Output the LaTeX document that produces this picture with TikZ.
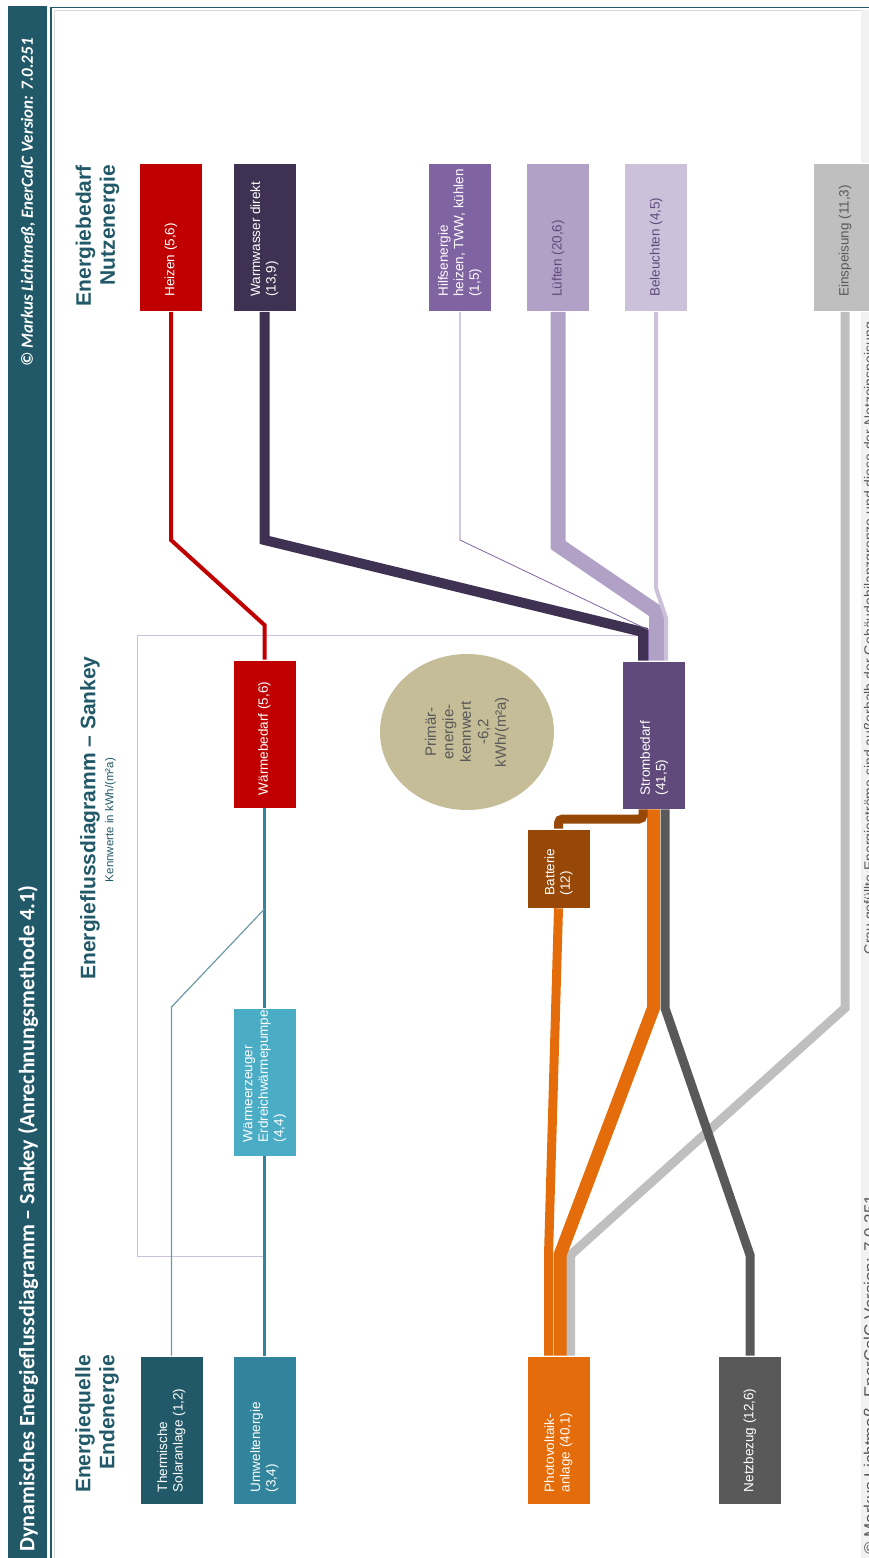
\documentclass[tikz,border=0pt]{standalone}
\usepackage{fontspec}
\setmainfont{Liberation Sans}
\newfontfamily\bandfont{Carlito}
\usetikzlibrary{shapes.geometric}
\definecolor{tealdark}{HTML}{215968}
\definecolor{umweltcol}{HTML}{31849B}
\definecolor{erzeugercol}{HTML}{4BACC6}
\definecolor{solarline}{HTML}{6E98A6}
\definecolor{heizcol}{HTML}{C00000}
\definecolor{wwcol}{HTML}{3F3151}
\definecolor{hilfscol}{HTML}{8064A2}
\definecolor{lueftcol}{HTML}{B2A1C7}
\definecolor{lichtcol}{HTML}{CCC1DA}
\definecolor{einspcol}{HTML}{BFBFBF}
\definecolor{stromcol}{HTML}{604A7B}
\definecolor{battcol}{HTML}{974806}
\definecolor{pvcol}{HTML}{E46C0A}
\definecolor{netzcol}{HTML}{595959}
\definecolor{primcol}{HTML}{C4BD97}
\definecolor{grenzcol}{HTML}{CCC0DA}
\definecolor{darktext}{HTML}{5F4B7B}
\tikzset{
  box/.style={draw=white, line width=0.6pt, minimum width=63pt, minimum height=148pt, inner sep=0pt},
  boxtext/.style={rotate=90, anchor=west, align=left, inner sep=0pt, text=white, font=\fontsize{13.5}{15.5}\selectfont},
  heading/.style={rotate=90, inner sep=0pt, text=tealdark, font=\fontsize{21}{24}\selectfont\bfseries},
  flow/.style={line cap=butt, line join=miter},
}

\begin{document}
\begin{tikzpicture}[x=1pt, y=-1pt]
  \useasboundingbox (0,0) rectangle (869,1558);
  % band and frame
  \fill[tealdark] (8,6) rectangle (47,1558);
  \fill[black!5] (861,10) rectangle (869,1558);
  \draw[tealdark, line width=1.2pt] (51,1558) -- (51,7.5) -- (869,7.5);
  \draw[black!15, line width=0.8pt] (54,1558) -- (54,10.5) -- (861,10.5);
  \node[rotate=90, anchor=west, inner sep=0pt, text=white, font=\bandfont\fontsize{22}{24}\selectfont\bfseries] (titel) at (28,1552) {Dynamisches Energieflussdiagramm – Sankey (Anrechnungsmethode 4.1)};
  \node[rotate=90, anchor=east, inner sep=0pt, text=white, font=\bandfont\fontsize{17}{20}\selectfont\bfseries\itshape] (version) at (28,38) {© Markus Lichtmeß, EnerCalC Version: 7.0.251};
  % headings
  \node[heading, anchor=east, align=right] (quelle) at (97,1355) {Energiequelle\\Endenergie};
  \node[heading, anchor=east, align=right] (bedarf) at (97.5,165) {Energiebedarf\\Nutzenergie};
  \node[heading] (titelmitte) at (90,818) {Energieflussdiagramm – Sankey};
  \node[rotate=90, inner sep=0pt, text=tealdark, font=\fontsize{11.5}{13}\selectfont] (einheit) at (110.5,820) {Kennwerte in kWh/(m²a)};
  % system boundary
  \draw[grenzcol, line width=1pt] (263,1256) -- (137,1256) -- (137,635) -- (638,635);
  % boxes top
  \node[box, fill=heizcol] (heizen) at (171,237.5) {};
  \node[box, fill=wwcol] (warmwasser) at (264.5,237.5) {};
  \node[box, fill=hilfscol] (hilfs) at (460,237.5) {};
  \node[box, fill=lueftcol] (lueften) at (558,237.5) {};
  \node[box, fill=lichtcol] (beleuchten) at (656,237.5) {};
  \node[box, fill=einspcol] (einspeisung) at (845,237.5) {};
  % boxes middle
  \node[box, fill=heizcol] (waermebedarf) at (264.5,734) {};
  \node[box, fill=stromcol] (strombedarf) at (654,735) {};
  \node[box, fill=battcol, minimum height=79pt] (batterie) at (558.5,868.5) {};
  \node[box, fill=erzeugercol] (waermeerzeuger) at (264.5,1082) {};
  \node[ellipse, fill=primcol, minimum width=174pt, minimum height=156pt, inner sep=0pt] (primaer) at (467,732) {};
  % boxes bottom
  \node[box, fill=tealdark] (solar) at (171.5,1430) {};
  \node[box, fill=umweltcol] (umwelt) at (264.5,1430) {};
  \node[box, fill=pvcol] (pv) at (558.5,1430) {};
  \node[box, fill=netzcol] (netz) at (750,1430) {};
  % flows
  \draw[flow, heizcol, line width=4pt] (heizen.south) -- (171,540) -- (264.5,625) -- (waermebedarf.north);
  \draw[flow, wwcol, line width=10pt] (warmwasser.south) -- (264.5,540) -- (643,632) -- ([xshift=-11pt]strombedarf.north);
  \draw[flow, hilfscol, line width=0.8pt] (hilfs.south) -- (460,540) -- (648.5,630) -- ([xshift=-5.5pt]strombedarf.north);
  \draw[flow, lueftcol, line width=15pt] (lueften.south) -- (558,545) -- (656.5,612) -- ([xshift=2.5pt]strombedarf.north);
  \draw[flow, lichtcol, line width=4pt] (beleuchten.south) -- (656,588) -- (666,618) -- ([xshift=12pt]strombedarf.north);
  \draw[flow, umweltcol, line width=3.5pt] (waermeerzeuger.north) -- (waermebedarf.south);
  \draw[flow, umweltcol, line width=3pt] (umwelt.north) -- (waermeerzeuger.south);
  \coordinate (zusammen) at (264.5,909);
  \draw[flow, solarline, line width=1.2pt] (solar.north) -- (171.5,1007) -- (zusammen);
  \draw[flow, einspcol, line width=9pt] (einspeisung.south) -- (845,1008) -- (570.5,1255) -- ([xshift=12pt]pv.north);
  \draw[flow, netzcol, line width=9pt] ([xshift=11pt]strombedarf.south) -- (665,1008) -- (750,1255) -- (netz.north);
  \draw[flow, pvcol, line width=13pt] ([xshift=-0.5pt]strombedarf.south) -- (653.5,1008) -- (560,1255) -- ([xshift=1.5pt]pv.north);
  \draw[flow, pvcol, line width=9pt] (batterie.south) -- (548.5,1255) -- ([xshift=-10pt]pv.north);
  \draw[flow, battcol, line width=9pt, rounded corners=4pt] ([xshift=-11pt]strombedarf.south) -- (643,819) -- (558.5,819) -- (batterie.north);
  % texts
  \node[boxtext] at ([yshift=15pt]heizen.south) {Heizen (5,6)};
  \node[boxtext] at ([yshift=15pt]warmwasser.south) {Warmwasser direkt\\(13,9)};
  \node[boxtext] at ([yshift=15pt]hilfs.south) {Hilfsenergie\\heizen, TWW, kühlen\\(1,5)};
  \node[boxtext, text=darktext] at ([yshift=15pt]lueften.south) {Lüften (20,6)};
  \node[boxtext, text=darktext] at ([yshift=15pt]beleuchten.south) {Beleuchten (4,5)};
  \node[boxtext, text=netzcol] at ([yshift=15pt]einspeisung.south) {Einspeisung (11,3)};
  \node[boxtext] at ([yshift=13pt]waermebedarf.south) {Wärmebedarf (5,6)};
  \node[boxtext] at ([yshift=14pt]strombedarf.south) {Strombedarf\\(41,5)};
  \node[boxtext] at ([yshift=13pt]batterie.south) {Batterie\\(12)};
  \node[boxtext] at ([yshift=14pt]waermeerzeuger.south) {Wärmeerzeuger\\Erdreichwärmepumpe\\(4,4)};
  \node[rotate=90, align=center, inner sep=0pt, text=netzcol, font=\fontsize{15}{17.5}\selectfont] at (primaer.center) {Primär-\\energie-\\kennwert\\-6,2\\kWh/(m²a)};
  \node[boxtext] at ([yshift=12pt]solar.south) {Thermische\\Solaranlage (1,2)};
  \node[boxtext] at ([yshift=12pt]umwelt.south) {Umweltenergie\\(3,4)};
  \node[boxtext] at ([yshift=12pt]pv.south) {Photovoltaik-\\anlage (40,1)};
  \node[boxtext] at ([yshift=12pt]netz.south) {Netzbezug (12,6)};
  % footer
  \node[rotate=90, anchor=base west, inner sep=0pt, text=netzcol, font=\fontsize{14}{16}\selectfont] (hinweis) at (874,955) {Grau gefüllte Energieströme sind außerhalb der Gebäudebilanzgrenze und diese der Netzeinspeisung};
  \node[rotate=90, anchor=base west, inner sep=0pt, text=netzcol, font=\fontsize{17}{19}\selectfont] (copyright) at (876,1555) {© Markus Lichtmeß, EnerCalC Version: 7.0.251};
\end{tikzpicture}
\end{document}
